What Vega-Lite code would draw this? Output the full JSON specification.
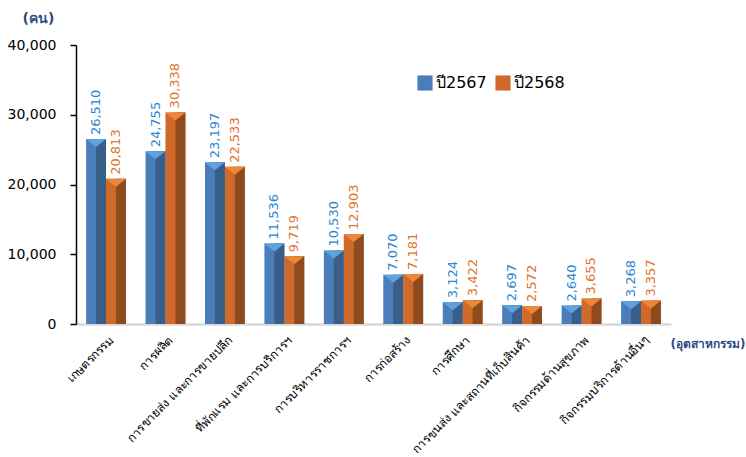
{
  "$schema": "https://vega.github.io/schema/vega-lite/v6.json",
  "width": 595,
  "height": 279,
  "autosize": {"type": "none"},
  "padding": {"left": 76, "top": 45, "right": 75, "bottom": 133},
  "background": "white",
  "config": {
    "view": {"stroke": null},
    "font": "DejaVu Sans"
  },
  "data": {
    "values": [
      {"cat": "เกษตรกรรม", "series": "ปี2567", "value": 26510},
      {"cat": "เกษตรกรรม", "series": "ปี2568", "value": 20813},
      {"cat": "การผลิต", "series": "ปี2567", "value": 24755},
      {"cat": "การผลิต", "series": "ปี2568", "value": 30338},
      {"cat": "การขายส่ง และการขายปลีก", "series": "ปี2567", "value": 23197},
      {"cat": "การขายส่ง และการขายปลีก", "series": "ปี2568", "value": 22533},
      {"cat": "ที่พักแรม และการบริการฯ", "series": "ปี2567", "value": 11536},
      {"cat": "ที่พักแรม และการบริการฯ", "series": "ปี2568", "value": 9719},
      {"cat": "การบริหารราชการฯ", "series": "ปี2567", "value": 10530},
      {"cat": "การบริหารราชการฯ", "series": "ปี2568", "value": 12903},
      {"cat": "การก่อสร้าง", "series": "ปี2567", "value": 7070},
      {"cat": "การก่อสร้าง", "series": "ปี2568", "value": 7181},
      {"cat": "การศึกษา", "series": "ปี2567", "value": 3124},
      {"cat": "การศึกษา", "series": "ปี2568", "value": 3422},
      {"cat": "การขนส่ง และสถานที่เก็บสินค้า", "series": "ปี2567", "value": 2697},
      {"cat": "การขนส่ง และสถานที่เก็บสินค้า", "series": "ปี2568", "value": 2572},
      {"cat": "กิจกรรมด้านสุขภาพ", "series": "ปี2567", "value": 2640},
      {"cat": "กิจกรรมด้านสุขภาพ", "series": "ปี2568", "value": 3655},
      {"cat": "กิจกรรมบริการด้านอื่นๆ", "series": "ปี2567", "value": 3268},
      {"cat": "กิจกรรมบริการด้านอื่นๆ", "series": "ปี2568", "value": 3357}
    ]
  },
  "encoding": {
    "x": {
      "field": "cat",
      "type": "nominal",
      "sort": null,
      "scale": {"paddingInner": 0.33, "paddingOuter": 0.17},
      "axis": {
        "labelAngle": -45,
        "labelAlign": "right",
        "labelBaseline": "top",
        "labelFontSize": 12,
        "labelColor": "#000000",
        "labelPadding": 10,
        "labelOffset": 2,
        "ticks": false,
        "domainColor": "#D9D9D9",
        "domainWidth": 2.5,
        "title": "(อุตสาหกรรม)",
        "titleColor": "#2E4C7E",
        "titleFontSize": 12,
        "titleFontWeight": "bold",
        "titleAlign": "left",
        "titleBaseline": "middle",
        "titleX": 594,
        "titleY": 19,
        "labelOverlap": false,
        "labelLimit": 0
      }
    },
    "xOffset": {
      "field": "series",
      "type": "nominal",
      "sort": ["ปี2567", "ปี2568"],
      "scale": {"paddingInner": 0, "paddingOuter": 0}
    },
    "y": {
      "field": "value",
      "type": "quantitative",
      "scale": {"domain": [0, 40000], "nice": false},
      "axis": {
        "values": [0, 10000, 20000, 30000, 40000],
        "format": ",d",
        "grid": false,
        "tickSize": 6,
        "tickColor": "#000000",
        "tickWidth": 1.5,
        "domainColor": "#000000",
        "domainWidth": 1.5,
        "labelFontSize": 14,
        "labelColor": "#000000",
        "labelPadding": 14,
        "title": "(คน)",
        "titleAngle": 0,
        "titleColor": "#2E4C7E",
        "titleFontSize": 14,
        "titleFontWeight": "bold",
        "titleAlign": "left",
        "titleBaseline": "middle",
        "titleX": -54,
        "titleY": -27
      }
    }
  },
  "layer": [
    {
      "mark": {"type": "bar"},
      "encoding": {
        "color": {
          "field": "series",
          "type": "nominal",
          "sort": ["ปี2567", "ปี2568"],
          "scale": {"domain": ["ปี2567", "ปี2568"], "range": ["#4A7EB8", "#D06A2A"]},
          "legend": {
            "title": null,
            "orient": "none",
            "legendX": 341,
            "legendY": 30,
            "direction": "horizontal",
            "symbolType": "square",
            "symbolSize": 230,
            "symbolStrokeWidth": 0,
            "labelFontSize": 16,
            "labelColor": "#000000",
            "columnPadding": 8,
            "labelOffset": 3
          }
        }
      }
    },
    {
      "mark": {"type": "bar", "width": {"band": 0.5}, "xOffset": 5},
      "encoding": {
        "color": {
          "condition": {"test": "datum.series === 'ปี2567'", "value": "#395F88"},
          "value": "#8E4B1E"
        }
      }
    },
    {
      "mark": {"type": "point", "shape": "M-1,0L1,0L0,0.8Z", "size": 400, "filled": true, "opacity": 1},
      "encoding": {
        "color": {
          "condition": {"test": "datum.series === 'ปี2567'", "value": "#5FA2DE"},
          "value": "#EE863A"
        }
      }
    },
    {
      "mark": {"type": "text", "angle": 270, "align": "left", "baseline": "middle", "dx": 4, "fontSize": 13},
      "encoding": {
        "text": {"field": "value", "type": "quantitative", "format": ",d"},
        "color": {
          "condition": {"test": "datum.series === 'ปี2567'", "value": "#2E86D0"},
          "value": "#DF742C"
        }
      }
    }
  ]
}
